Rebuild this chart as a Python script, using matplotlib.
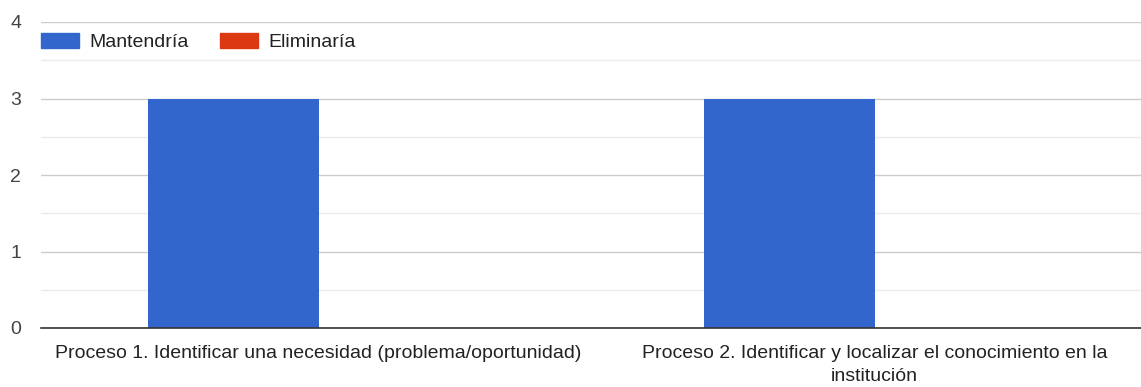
import matplotlib
matplotlib.use("Agg")
import matplotlib.pyplot as plt
import numpy as np
from matplotlib.patches import Patch

plt.rcParams['font.family'] = ['Liberation Sans', 'DejaVu Sans']

categories = [
    "Proceso 1. Identificar una necesidad (problema/oportunidad)",
    "Proceso 2. Identificar y localizar el conocimiento en la\ninstitución",
]
series_names = ["Mantendría", "Eliminaría"]
mantendria = [3, 3]
eliminaria = [0, 0]
colors = ["#3366cc", "#dc3912"]

fig = plt.figure(figsize=(11.41, 3.87), dpi=100)
ax = fig.add_axes([40.5 / 1141, 59 / 387, 1112 / 1141, 306 / 387])

x = np.arange(len(categories))
w = 0.306
ax.bar(x - w / 2, mantendria, width=w, color=colors[0], zorder=3)
ax.bar(x + w / 2, eliminaria, width=w, color=colors[1], zorder=3)

ax.set_xlim(-0.5, len(categories) - 0.5)
ax.set_ylim(0, 4)
ax.set_yticks([0, 1, 2, 3, 4])
ax.set_yticks([0.5, 1.5, 2.5, 3.5], minor=True)
ax.grid(axis='y', which='major', color='#cccccc', linewidth=1, zorder=0)
ax.grid(axis='y', which='minor', color='#ebebeb', linewidth=1, zorder=0)
ax.tick_params(axis='y', which='both', length=0, pad=14, labelsize=14, labelcolor='#444444')
ax.set_xticks(x)
ax.set_xticklabels(categories, fontsize=14, color='#222222', linespacing=1.45)
ax.tick_params(axis='x', length=0, pad=12)

for s in ['top', 'right', 'left']:
    ax.spines[s].set_visible(False)
ax.spines['bottom'].set_color('#333333')
ax.spines['bottom'].set_linewidth(1.2)
ax.spines['bottom'].set_zorder(4)

handles = [Patch(facecolor=c, edgecolor=c) for c in colors]
leg = ax.legend(handles, series_names, loc='center left', bbox_to_anchor=(0.0, 0.935),
                ncol=2, frameon=False, fontsize=14, handlelength=2.0, handleheight=0.85,
                handletextpad=0.5, columnspacing=1.6, borderpad=0, borderaxespad=0)
for t in leg.get_texts():
    t.set_color('#222222')

fig.savefig("out.png", dpi=100, facecolor='white')
